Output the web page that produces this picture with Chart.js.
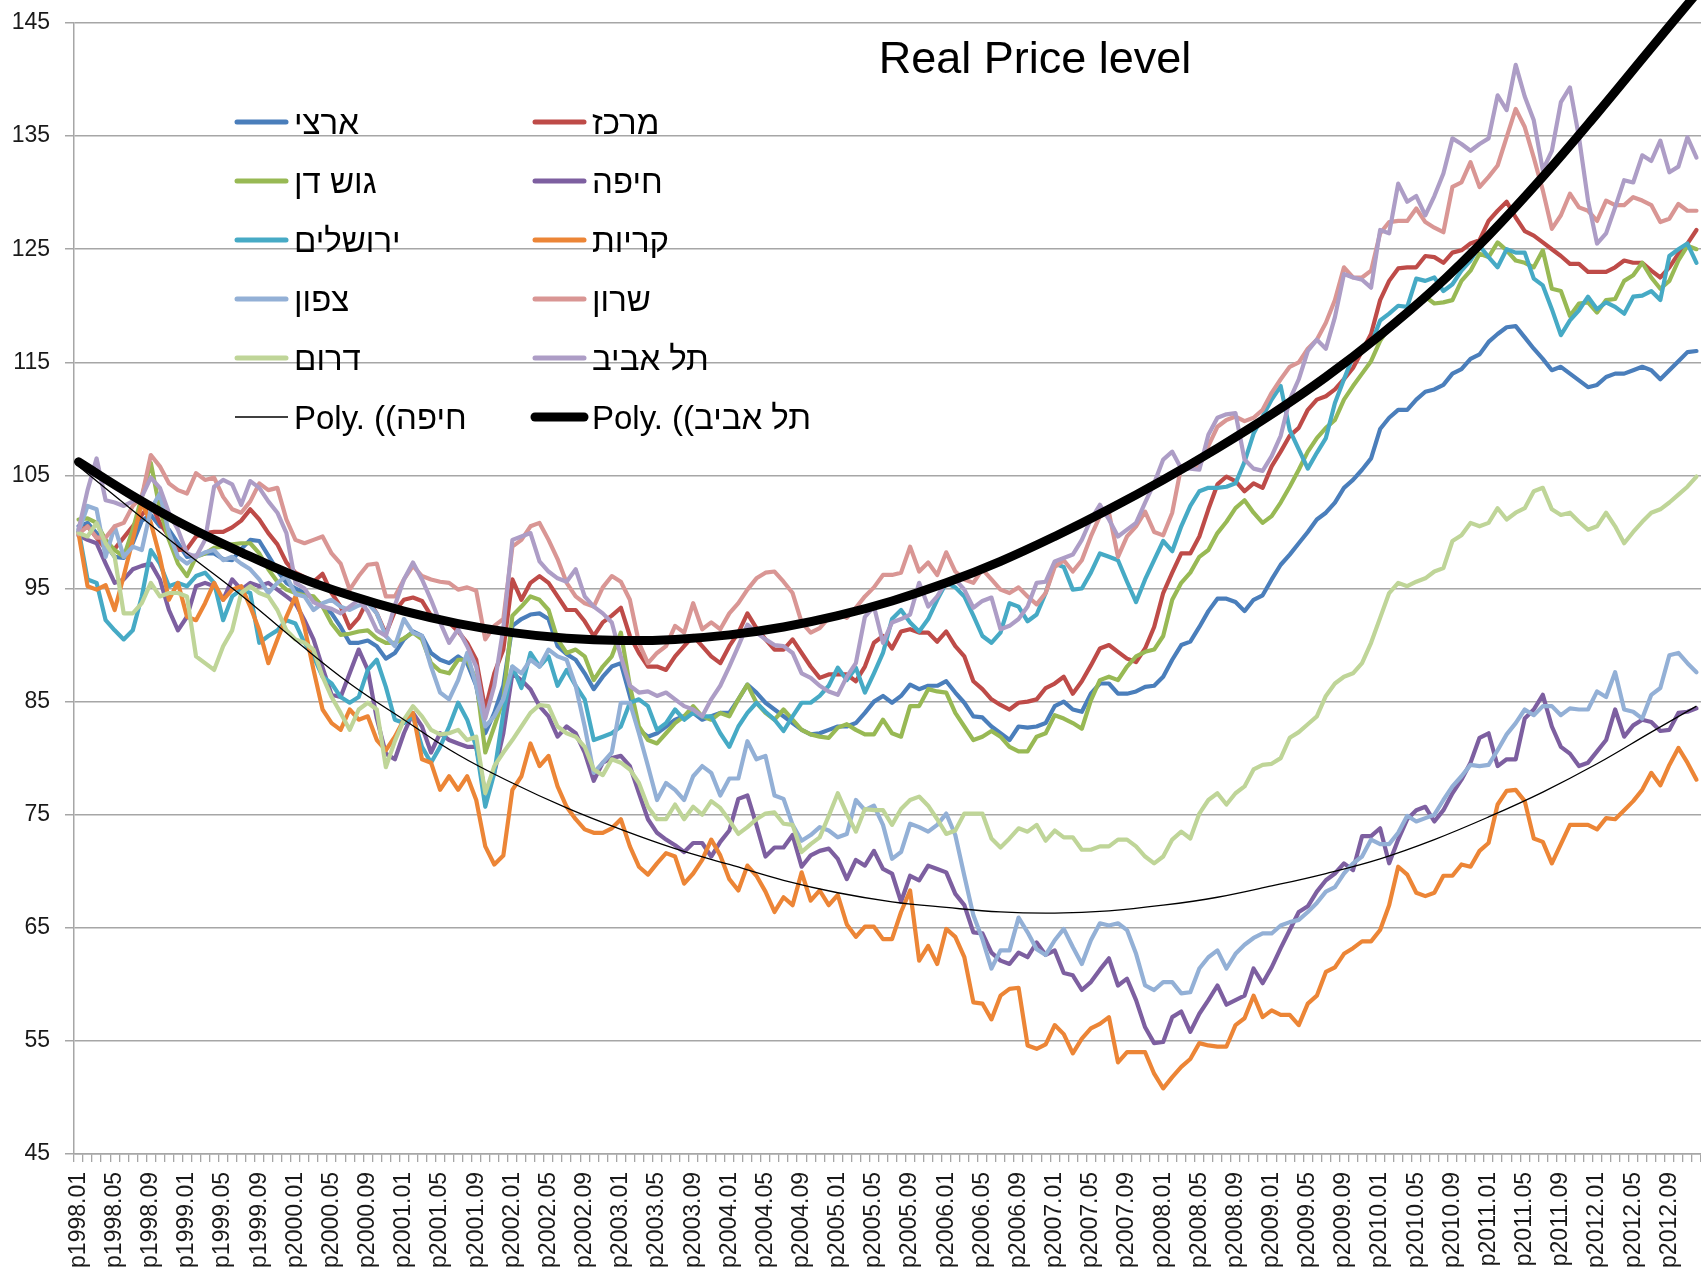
<!DOCTYPE html>
<html>
<head>
<meta charset="utf-8">
<script src="https://cdn.jsdelivr.net/npm/chart.js@4.4.1/dist/chart.umd.min.js"></script>
<style>
html,body{margin:0;padding:0;background:#fff;overflow:hidden}
#wrap{width:1701px;height:1276px;position:relative;overflow:hidden}
canvas{display:block}
</style>
</head>
<body>
<div id="wrap"><canvas id="c" width="1701" height="1276"></canvas></div>
<script>
// ---------- categories & tick labels ----------
const years = [1998,1999,2000,2001,2002,2003,2004,2005,2006,2007,2008,2009,2010,2011,2012];
const months = ['01','02','03','04','05','06','07','08','09','10','11','12'];
const categories = [];
years.forEach(y => months.forEach(m => categories.push('p' + y + '.' + m)));
const yTicks = [45,55,65,75,85,95,105,115,125,135,145];
const titleText = 'Real Price level';

// ---------- series values (monthly) ----------
const artzi = [
100.5,100.8,99.9,98.9,97.8,97.7,99,101,101.5,100.5,100.2,99,
97.8,97.9,98.1,98.1,97.6,97.5,98.5,99.3,99.2,97.9,96.6,95.5,
95,94.6,94.2,93.4,92.8,91.6,90.2,90.2,90.4,89.9,88.8,89.3,
90.5,91.2,90.8,89.3,88.7,88.4,89,88.4,86.4,82.2,84,86.4,
91.7,92.3,92.7,92.8,92.3,89.9,89.2,88.7,87.5,86.1,87.2,88.1,
88.4,85.5,82.5,81.9,82.2,82.8,83.4,83.7,84,83.4,83.7,84,
84,85.2,86.5,85.8,84.9,84.3,83.7,83.1,82.5,82.1,82.2,82.5,
82.8,82.8,83.1,84,85,85.5,84.9,85.5,86.5,86.1,86.4,86.4,
86.8,85.8,84.9,83.7,83.6,82.8,82.2,81.6,82.8,82.7,82.8,83.1,
84.6,85,84.3,84.1,85.7,86.6,86.6,85.7,85.7,85.9,86.3,86.4,
87.2,88.7,90,90.3,91.6,93,94.1,94.1,93.8,93,94,94.4,
95.8,97.1,98,99,100,101.1,101.7,102.6,103.9,104.6,105.5,106.5,
109.1,110.1,110.8,110.8,111.7,112.4,112.6,113,114,114.4,115.3,115.7,
116.8,117.5,118.1,118.2,117.2,116.2,115.3,114.3,114.6,114,113.4,112.8,
113,113.7,114,114,114.3,114.6,114.3,113.5,114.3,115.1,115.9,116];

const merkaz = [
100,100.5,99.5,98.5,98.5,99.5,100.5,101.5,102.5,100.8,99.6,98.4,
98.5,99.6,99.9,100,100,100.4,101,102,101.1,99.9,98.9,97.3,
96.4,96,95.6,96.3,94.6,93.4,91.5,92.4,94,92.8,91,93,
94,94.2,93.9,92.6,92.4,92,91.2,90.2,88.7,84.3,87.5,89.6,
95.8,94,95.5,96.1,95.5,94.3,93.1,93.1,92.1,90.8,92,92.6,
93.3,90.8,89.3,88.1,88.1,87.8,89,89.9,90.8,89.9,89,88.4,
89.9,91.1,92.8,91.5,90.5,89.6,89.6,90.5,89.3,88.1,87.1,87.4,
87.4,87.4,86.8,88.1,90.2,90.8,89.7,91.2,91.4,91.1,91.1,90.3,
91.2,89.9,89,86.8,86.1,85.2,84.7,84.3,84.9,85,85.2,86.2,
86.6,87.2,85.7,86.8,88.2,89.7,90,89.4,88.8,88.5,89.7,91.6,
94.6,96.4,98.1,98.1,99.6,102,104.2,104.9,104.5,103.6,104.3,103.9,
105.8,107.1,108.5,109.2,110.8,111.7,112,112.6,113.5,114.5,116,117.5,
120.5,122.2,123.3,123.4,123.4,124.4,124.3,123.8,124.7,124.9,125.5,125.8,
127.5,128.4,129.2,127.8,126.6,126.2,125.6,125,124.4,123.7,123.7,123,
123,123,123.4,124,123.8,123.8,123.1,122.5,123.4,124.6,125.5,126.7];

const gushDan = [
101.1,101.2,100.8,99.3,98.4,97.8,100.2,103.1,106.1,102,99.3,97.2,
96.1,97.8,98.1,98.6,98.7,98.9,99,99,98.1,96.7,95.6,94.9,
94.6,94.4,94.3,93.4,91.9,90.9,91,91.2,91.3,90.6,90.2,90.2,
90.6,91.1,90.5,88.4,87.7,87.5,88.7,88.7,86.9,80.5,82.8,85.2,
92.6,93.4,94.3,94,93.1,90.5,89.3,89.6,89,86.9,88.1,89,
91.1,86.4,82.8,81.6,81.3,82.2,83.1,83.7,84.6,83.7,83.4,84,
83.7,85.2,86.5,84.9,84,83.4,84.3,83.4,82.5,82.1,81.9,81.8,
82.7,83,82.5,82.1,82.1,83.4,82.2,81.9,84.6,84.6,86.1,85.9,
85.8,84,82.8,81.6,81.9,82.4,81.9,81,80.6,80.6,81.9,82.2,
83.8,83.5,83.1,82.6,85.1,86.9,87.2,86.9,88.1,89,89.4,89.6,
90.8,94,95.5,96.4,97.8,98.4,99.9,100.9,102.1,102.8,101.7,100.8,
101.4,102.6,104,105.5,107.1,108.3,109.2,109.9,111.7,112.9,114,115.1,
116.9,118.1,119,119.3,119.9,120.8,120.2,120.3,120.5,122.2,123.1,124.6,
124.3,125.6,124.9,124,123.8,123.4,124.9,121.5,121.3,119.1,120.2,120.3,
119.4,120.5,120.6,122.2,122.7,123.8,122.5,121.5,122.2,124,125.3,125];

const haifa = [
99.7,99.3,99,97.2,95.5,95.8,96.7,97,97.2,95.8,93.1,91.3,
92.5,95.2,95.5,95.2,94,95.8,94.9,95.5,95.2,95.5,94.9,94.3,
93.7,92.2,90.5,88,85.6,85.4,87.5,89.6,87.8,83.5,80.4,79.9,
82.2,84,82.8,80.5,82.2,81.6,81.3,81,81,76.9,78.7,82.2,
87.5,86.9,86.1,84.6,83.7,81.9,82.8,82.2,80.5,78,79.6,80,
80.2,79.3,76.9,74.6,73.4,72.8,72.3,71.7,72.5,72.5,71.3,72.6,
73.6,76.4,76.7,74.1,71.3,72.1,72.1,73.2,70.4,71.4,71.8,72,
71.1,69.3,71,70.5,71.8,70.2,69.8,67.3,69.6,69.2,70.5,70.2,
69.9,68,67,64.6,64.5,62.8,62.1,61.8,62.8,62.4,63.7,62.6,
63,61,60.8,59.5,60.2,61.3,62.3,59.9,60.5,58.6,56.2,54.8,
54.9,57.1,57.6,55.8,57.4,58.6,59.9,58.2,58.6,59,61.4,60.1,
61.5,63.2,64.8,66.4,66.9,68.2,69.2,69.8,70.7,70.1,73.1,73.1,
73.8,70.7,72.8,74.6,75.4,75.7,74.4,75.4,76.9,78.1,79.6,81.8,
82.2,79.3,79.9,79.9,83.5,84.3,85.6,82.8,81,80.4,79.3,79.6,
80.6,81.6,84.3,81.9,82.9,83.4,83.2,82.4,82.5,84,84.1,84.4];

const jerusalem = [
100.2,95.8,95.5,92.2,91.3,90.5,91.3,94.3,98.4,97.2,95.2,95.5,
95.2,96.1,96.4,95.5,92.2,94.3,94.9,94.6,90.2,90.8,91.3,92.2,
91.9,90.2,89,87.2,86.6,85.4,84.9,85.4,87.8,88.7,86.3,83.4,
83.1,83.7,81,79.6,81,82.8,84.9,83.4,81,75.7,78.7,84,
88.1,86.2,89.3,88.1,89,86.4,87.8,86.4,85.2,81.6,81.9,82.2,
82.8,84.9,85.2,84.6,82.5,83.1,84.3,83.4,84,83.7,83.7,82.2,
81,82.8,84,84.9,84.1,83.4,82.4,83.7,84.9,84.9,85.5,86.4,
88,86.9,88,85.8,87.5,89.3,92.3,93.1,92,91.2,92.3,94,
95.5,95.1,94.3,92.6,90.8,90.2,91.1,93.7,93.4,92.1,92.7,94.6,
97.2,96.9,94.9,95,96.4,98.1,97.8,97.5,95.6,93.8,95.8,97.5,
99.2,98.3,100.5,102.3,103.6,103.9,103.9,104,104.3,106.2,108.7,110.2,
111.7,112.9,109,107.3,105.6,107,108.3,111.4,113.5,115.5,116,116.6,
118.7,119.3,120,119.9,122.4,122.2,122.5,121.3,121.9,123.1,124,125.3,
124.3,123.4,125,124.7,124.7,122.4,121.8,119.7,117.4,118.7,119.6,120.8,
119.7,120.3,119.9,119.3,120.8,120.9,121.3,120.5,124.4,125,125.5,123.8];

const krayot = [
99.9,95.2,94.9,95.3,93.1,96.1,99.3,102.6,100.8,97.8,94,95.5,
92.5,92.2,93.7,95.5,94,94.9,95.2,93.4,91.3,88.4,90.5,92.5,
94.3,91.6,87.8,84.3,83.1,82.5,84.3,83.4,83.7,81.6,80.7,81.9,
83.4,84,79.9,79.6,77.2,78.4,77.2,78.4,76.3,72.2,70.6,71.4,
77.2,78.4,81.3,79.3,80.2,77.5,75.7,74.6,73.7,73.4,73.4,73.8,
74.6,72.2,70.4,69.7,70.7,71.6,71.3,68.9,69.8,71,72.8,71.4,
69.3,68.3,70.5,69.6,68.2,66.4,67.7,67,69.9,67.4,68.3,67,
67.9,65.3,64.2,65.1,65.1,64,64,66.4,68.3,62.1,63.4,61.8,
64.9,64.2,62.4,58.4,58.3,56.9,59,59.6,59.7,54.6,54.3,54.7,
56.4,55.6,53.9,55.2,56.1,56.5,57.1,53.1,54,54,54,52.1,
50.8,51.8,52.7,53.4,54.8,54.6,54.5,54.5,56.4,57,59,57.1,
57.7,57.3,57.3,56.4,58.3,59,61.1,61.5,62.7,63.2,63.8,63.8,
64.8,67,70.4,69.7,68.1,67.8,68.1,69.6,69.6,70.6,70.4,71.8,
72.5,75.9,77.1,77.2,76.2,72.9,72.6,70.7,72.4,74.1,74.1,74.1,
73.7,74.7,74.6,75.4,76.2,77.2,78.7,77.6,79.4,80.9,79.6,78.1];

const tsafon = [
100,102.3,102,97.8,100.5,97.8,98.7,98.4,102,103.4,99.9,97.8,
97.2,97.8,98.2,98.4,97.5,97.8,97.2,96.7,95.8,94.6,95.5,96.1,
94.5,94.3,93.1,93.7,94,93.4,93.1,93.5,93.7,92.8,90.8,89.9,
92.3,91.1,90.8,88.1,85.8,85.2,86.9,89.3,86.4,82.8,83.7,85.2,
88.1,87.5,88.7,88.1,89.6,89,88.7,86.4,82.8,78.7,79.6,80.5,
84.9,84.9,82.2,79.3,76.3,77.8,77.2,76.3,78.4,79.3,78.7,76.7,
78.2,78.2,81.5,79.9,80.2,76.7,76.4,74.1,72.7,73.2,73.9,73.6,
73,73.3,76.3,75.4,75.8,74.1,71.1,71.7,74.2,73.9,73.5,74.1,
75.1,73.2,69.6,66.1,64,61.4,63,63,65.9,64.6,63.1,62.6,
63.9,64.9,63.3,61.8,63.9,65.4,65.2,65.4,64.8,62.7,59.9,59.5,
60.2,60.2,59.2,59.3,61.4,62.4,63,61.4,62.7,63.5,64.1,64.5,
64.5,65.2,65.5,65.7,66.4,67.2,68.2,68.6,69.8,70.7,71.3,72.8,
72.4,72.4,73.4,74.9,74.4,74.7,75,76.3,77.5,78.4,79.4,79.3,
79.4,80.7,82.1,83.1,84.3,83.8,84.6,84.6,83.8,84.4,84.3,84.3,
85.9,85.4,87.6,84.3,84.1,83.5,85.6,86.2,89.1,89.3,88.4,87.6];

const sharon = [
99.8,100.5,99.5,99.5,100.5,100.8,102.3,103.1,106.8,105.8,104.3,103.7,
103.4,105.2,104.6,104.8,103.1,102,101.7,102.7,104.3,103.7,103.9,101.1,
99.3,99,99.3,99.6,98.1,97.2,94.9,96.1,97.1,97.2,94.3,94.3,
95.8,97,96.1,95.8,95.6,95.5,94.9,95.1,94.8,90.5,91.7,92.3,
98.7,99.3,100.5,100.8,99.3,97.6,95.5,94.3,93.7,93.4,95.1,96.1,
95.6,94,90.2,88.4,89.3,89.9,91.7,91.1,93.7,91.4,92,91.4,
92.8,93.7,94.9,95.9,96.4,96.5,95.6,94.6,92,91.1,91.5,92.4,
92.8,92.4,93.3,94.3,95.1,96.2,96.2,96.4,98.7,96.5,97.3,96.2,
98.2,96.5,95.8,95.5,96.7,95.8,94.9,94.6,95.1,94.3,93.6,94.6,
96.9,97.5,96.5,97.5,99.6,101.4,101.7,97.8,99.6,100.5,101.8,100,
99.7,101.7,105.8,105.9,105.8,107.6,109.3,109.9,110.2,109.8,110.1,110.8,
112.3,113.5,114.6,115,116.2,117,118.5,120.5,123.4,122.5,122.5,123.1,
126.4,127.4,127.5,127.5,128.6,127.4,126.9,126.5,130.5,130.9,132.7,130.5,
131.4,132.4,134.9,137.4,135.8,133.1,130.2,126.8,128,129.9,128.7,128.4,
127.5,129.3,128.9,128.9,129.6,129.3,128.9,127.4,127.7,129,128.4,128.4];

const darom = [
99.9,99.6,100.8,99,97.8,92.8,92.8,93.7,95.5,94.3,94.6,94.6,
94.3,89,88.4,87.8,89.9,91.3,94.6,95.2,94.6,94.3,93.1,91.3,
90.5,90.2,89.6,87.2,85.4,84,82.5,84.3,84.9,84.3,79.2,81.5,
83.4,84.6,83.7,82.5,82.1,82.2,82.5,81.6,81.9,76.9,79.3,80.5,
81.6,82.8,84,84.7,84.6,82.8,82.2,81.9,81,79,78.5,79.9,
79.6,79,77.8,75.7,74.6,74.6,75.9,74.6,75.7,75,76.2,75.6,
74.5,73.3,73.9,74.6,75.1,75.2,74.2,74.1,71.7,72.4,73,74.9,
76.9,75.1,73.5,75.5,75.4,75.4,74.1,75.5,76.3,76.6,75.8,74.6,
73.3,73.6,75.1,75.1,75.1,72.9,72.1,72.9,73.8,73.5,74.1,72.7,
73.6,73,73,71.9,71.9,72.2,72.2,72.8,72.8,72.2,71.3,70.7,
71.3,72.8,73.5,72.9,75.1,76.3,76.9,75.9,76.9,77.5,79,79.4,
79.5,80,81.8,82.3,83,83.7,85.5,86.6,87.2,87.5,88.4,90.2,
92.4,94.6,95.5,95.2,95.6,95.9,96.5,96.8,99.2,99.7,100.8,100.5,
100.8,102.1,101.1,101.7,102.1,103.6,103.9,102,101.5,101.7,100.9,100.2,
100.5,101.7,100.5,99,100,100.9,101.7,102,102.6,103.3,104,104.9];

const telAviv = [
100.2,103.7,106.5,102.8,102.6,102.3,102.7,103.1,104.8,103.9,101.7,100.2,
98.1,97.8,99.3,104,104.6,104.2,102.4,104.5,103.9,102.7,101.7,99.9,
95.5,95,93.8,93.4,93.2,92.8,93.4,94,93,91.3,90.8,93.5,
95.8,97.3,95.8,94,92,90.2,91.4,89.9,88.1,83.5,86.4,91.5,
99.3,99.6,99.9,97.4,96.5,95.9,95.6,96.7,94.3,93.4,92.8,92,
89,86.4,85.8,85.9,85.5,85.8,85.2,84.6,84.3,83.7,85.2,86.4,
88.1,89.9,91.8,91.1,90.5,90,89.9,89.3,87.5,87.1,86.4,85.9,
85.6,87.2,88.4,92.5,93.4,90.2,92,92.3,92.7,95.5,93.4,94.3,
95.6,95.8,94.9,93.3,93.9,94.2,91.4,91.7,92.3,93.4,95.5,95.6,
97.4,97.7,98,99.3,101.1,102.4,101.1,99.6,100.2,100.8,102.6,104.3,
106.4,107.1,105.6,105.6,105.5,108.6,110.1,110.4,110.5,106.4,105.6,105.4,
106.7,108.5,111.7,113.5,116,117,116.2,119,122.8,122.5,122.3,121.6,
126.7,126.4,130.8,129.2,129.7,128,129.7,131.7,134.8,134.3,133.7,134.3,
134.8,138.6,137.3,141.3,138.5,136.4,132,133.7,138,139.3,134.9,129.3,
125.5,126.4,128.7,131.1,130.9,133.3,132.8,134.6,131.8,132.3,134.9,133.1];

// ---------- polynomial trend lines ----------
const trendMonths = [0,6,12,18,24,30,36,42,48,54,60,66,72,78,84,90,96,102,108,114,120,126,132,138,144,150,156,162,168,174,179];
const trendHaifa = [105.8,101.9,98.1,94.4,90.4,86.6,83.4,80.3,77.8,75.6,73.7,72,70.6,69.2,68.1,67.3,66.8,66.4,66.3,66.5,67,67.7,68.7,69.8,71.1,72.8,74.8,77,79.5,82.3,84.6];
const trendTelAviv = [106.2,103.2,100.5,98.2,96.1,94.4,93,91.9,91.1,90.6,90.4,90.5,90.9,91.6,92.6,93.9,95.5,97.4,99.6,102,104.6,107.4,110.4,113.7,117.4,121.5,126.2,131.4,137,142.8,147.6];

// ---------- build ----------
const seriesList = [
  {label:'ארצי',    data:artzi,     color:'#4a7ebb'},
  {label:'מרכז',    data:merkaz,    color:'#be4b48'},
  {label:'גוש דן',  data:gushDan,   color:'#98b954'},
  {label:'חיפה',    data:haifa,     color:'#7d5fa0'},
  {label:'ירושלים', data:jerusalem, color:'#46aac5'},
  {label:'קריות',   data:krayot,    color:'#ec8536'},
  {label:'צפון',    data:tsafon,    color:'#93b0d6'},
  {label:'שרון',    data:sharon,    color:'#d99694'},
  {label:'דרום',    data:darom,     color:'#bfd598'},
  {label:'תל אביב', data:telAviv,   color:'#ad9dc6'}
];
seriesList.forEach(s => { if (s.data.length !== categories.length) throw new Error(s.label + ' length ' + s.data.length); });
if (trendHaifa.length !== trendMonths.length || trendTelAviv.length !== trendMonths.length) throw new Error('trend length');

const sparse = vals => categories.map((_, i) => { const k = trendMonths.indexOf(i); return k >= 0 ? vals[k] : null; });

const datasets = seriesList.map((s, i) => ({
  label: s.label, data: s.data, borderColor: s.color, backgroundColor: s.color,
  borderWidth: 4.2, pointRadius: 0, tension: 0, fill: false,
  borderJoinStyle: 'round', borderCapStyle: 'round', order: 12 - i
}));
datasets.push({
  label: 'Poly. ((חיפה', data: sparse(trendHaifa), borderColor: '#000', borderWidth: 1.3,
  pointRadius: 0, spanGaps: true, tension: 0.4, fill: false, order: 1
});
datasets.push({
  label: 'Poly. ((תל אביב', data: sparse(trendTelAviv), borderColor: '#000', borderWidth: 9,
  pointRadius: 0, spanGaps: true, tension: 0.4, fill: false, order: 0,
  borderCapStyle: 'round', clip: false
});

const legendRows = [
  [{t:'ארצי', c:'#4a7ebb', w:5}, {t:'מרכז', c:'#be4b48', w:5}],
  [{t:'גוש דן', c:'#98b954', w:5}, {t:'חיפה', c:'#7d5fa0', w:5}],
  [{t:'ירושלים', c:'#46aac5', w:5}, {t:'קריות', c:'#ec8536', w:5}],
  [{t:'צפון', c:'#93b0d6', w:5}, {t:'שרון', c:'#d99694', w:5}],
  [{t:'דרום', c:'#bfd598', w:5}, {t:'תל אביב', c:'#ad9dc6', w:5}],
  [{t:'Poly. ((חיפה', c:'#000', w:1.3}, {t:'Poly. ((תל אביב', c:'#000', w:9}]
];

const FONT = '"Liberation Sans", Arial, sans-serif';

const overlay = {
  id: 'overlay',
  afterDatasetsDraw(chart) {
    const ctx = chart.ctx;
    ctx.save();
    ctx.fillStyle = '#000';
    ctx.font = '45px ' + FONT;
    ctx.textAlign = 'center';
    ctx.textBaseline = 'alphabetic';
    ctx.fillText(titleText, 1035, 73);
    const colX = [235, 533];
    ctx.font = '33px ' + FONT;
    ctx.textAlign = 'left';
    legendRows.forEach((row, r) => {
      const y = 122 + r * 59;
      row.forEach((it, c) => {
        const x = colX[c];
        ctx.beginPath();
        ctx.strokeStyle = it.c;
        ctx.lineWidth = it.w;
        ctx.lineCap = it.w > 2 ? 'round' : 'butt';
        ctx.moveTo(x + (it.w > 2 ? 2 : 0), y);
        ctx.lineTo(x + 53 - (it.w > 2 ? 2 : 0), y);
        ctx.stroke();
        ctx.fillStyle = '#000';
        ctx.fillText(it.t, x + 59, y + 12);
      });
    });
    ctx.restore();
  }
};

new Chart(document.getElementById('c'), {
  type: 'line',
  data: { labels: categories, datasets },
  options: {
    responsive: false, animation: false, devicePixelRatio: 1, events: [],
    layout: { padding: { top: 23, right: 0, bottom: 0, left: 0 } },
    plugins: { legend: { display: false }, tooltip: { enabled: false }, title: { display: false } },
    scales: {
      x: {
        type: 'category', offset: true,
        grid: { display: true, drawOnChartArea: false, drawTicks: true, tickLength: 8, offset: true, color: '#a6a6a6', lineWidth: 1.3 },
        border: { display: true, color: '#a6a6a6', width: 1.5 },
        ticks: {
          autoSkip: false, maxRotation: 90, minRotation: 90, padding: 10,
          font: { family: FONT, size: 23 }, color: '#1a1a1a',
          callback: (v, i) => (i % 4 === 0 ? categories[i] : '')
        },
        afterFit: s => { s.height = 122; s.paddingLeft = 0; s.paddingRight = 0; }
      },
      y: {
        min: 45, max: 145,
        afterBuildTicks: s => { s.ticks = yTicks.map(v => ({ value: v })); },
        grid: { color: '#a6a6a6', lineWidth: 1.5, tickLength: 9, drawTicks: true },
        border: { display: true, color: '#a6a6a6', width: 1.5 },
        ticks: { padding: 15, font: { family: FONT, size: 23 }, color: '#1a1a1a' },
        afterFit: s => { s.width = 74; s.paddingTop = 0; s.paddingBottom = 0; }
      }
    }
  },
  plugins: [overlay]
});
</script>
</body>
</html>
